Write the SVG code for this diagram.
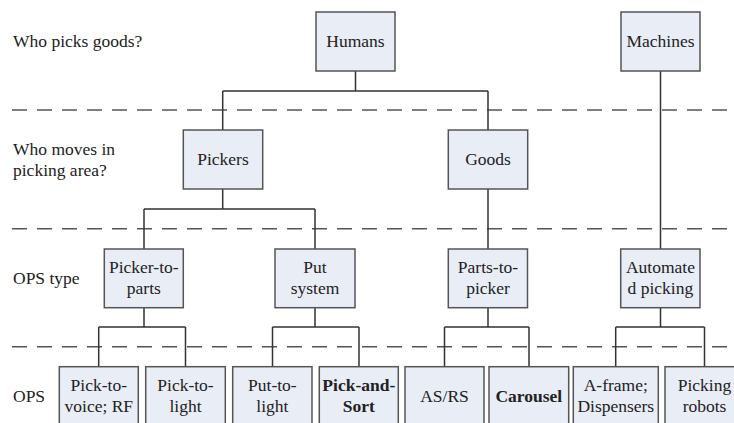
<svg xmlns="http://www.w3.org/2000/svg" width="734" height="423" viewBox="0 0 734 423">
<style>
.bg{fill:#ffffff}
.box{fill:#e9edf6;stroke:#555555;stroke-width:1.5}
.t{text-anchor:middle}
.b{font-weight:bold}
.dash{stroke:#555555;stroke-width:1.5;stroke-dasharray:15 10;fill:none}
.c{stroke:#333333;stroke-width:1.5;fill:none}
</style>
<rect class="bg" x="0" y="0" width="734" height="423"/>
<g font-family="Liberation Serif, Times New Roman, serif" font-size="17.5" fill="#222222">
<g id="levels">
<line class="dash" x1="12" y1="110" x2="734" y2="110"/>
<line class="dash" x1="12" y1="228.7" x2="734" y2="228.7"/>
<line class="dash" x1="12" y1="346.7" x2="734" y2="346.7"/>
<text x="13" y="46.5">Who picks goods?</text>
<text x="13" y="154.5">Who moves in</text>
<text x="13" y="175.5">picking area?</text>
<text x="13" y="284.3">OPS type</text>
<text x="13" y="401.8">OPS</text>
</g>
<g id="connectors">
<path class="c" d="M355.5,71 V91 M222.7,91 H488 M222.7,91 V130 M488,91 V130"/>
<path class="c" d="M660.5,71 V249"/>
<path class="c" d="M222.7,189 V209 M144,209 H315 M144,209 V249 M315,209 V249"/>
<path class="c" d="M488,189 V249"/>
<path class="c" d="M144,307.7 V327 M98.7,327 H185.5 M98.7,327 V366.7 M185.5,327 V366.7"/>
<path class="c" d="M315,307.7 V327 M272.5,327 H359 M272.5,327 V366.7 M359,327 V366.7"/>
<path class="c" d="M488,307.7 V327 M444.5,327 H529 M444.5,327 V366.7 M529,327 V366.7"/>
<path class="c" d="M660.5,307.7 V327 M615.7,327 H704.5 M615.7,327 V366.7 M704.5,327 V366.7"/>
</g>
<g id="humans"><rect class="box" x="316" y="12" width="79" height="59"/><text class="t" x="355.5" y="47">Humans</text></g>
<g id="machines"><rect class="box" x="621" y="12" width="79" height="59"/><text class="t" x="660.5" y="47">Machines</text></g>
<g id="pickers"><rect class="box" x="183.3" y="130" width="79.4" height="59"/><text class="t" x="223" y="165">Pickers</text></g>
<g id="goods"><rect class="box" x="448.3" y="130" width="79.4" height="59"/><text class="t" x="488" y="165">Goods</text></g>
<g id="picker-to-parts"><rect class="box" x="104.3" y="249" width="79" height="58.7"/><text class="t" x="143.8" y="273.3">Picker-to-</text><text class="t" x="143.8" y="294.3">parts</text></g>
<g id="put-system"><rect class="box" x="275" y="249" width="80" height="58.7"/><text class="t" x="315" y="273.3">Put</text><text class="t" x="315" y="294.3">system</text></g>
<g id="parts-to-picker"><rect class="box" x="448.3" y="249" width="79.2" height="58.7"/><text class="t" x="488" y="273.3">Parts-to-</text><text class="t" x="488" y="294.3">picker</text></g>
<g id="automated-picking"><rect class="box" x="620.7" y="249" width="79.3" height="58.7"/><text class="t" x="660.4" y="273.3">Automate</text><text class="t" x="660.4" y="294.3">d picking</text></g>
<g id="pick-to-voice"><rect class="box" x="59.3" y="366.7" width="79" height="59"/><text class="t" x="98.8" y="391">Pick-to-</text><text class="t" x="98.8" y="412">voice; RF</text></g>
<g id="pick-to-light"><rect class="box" x="145.7" y="366.7" width="79.6" height="59"/><text class="t" x="185.5" y="391">Pick-to-</text><text class="t" x="185.5" y="412">light</text></g>
<g id="put-to-light"><rect class="box" x="232.7" y="366.7" width="79.3" height="59"/><text class="t" x="272.4" y="391">Put-to-</text><text class="t" x="272.4" y="412">light</text></g>
<g id="pick-and-sort"><rect class="box" x="319.3" y="366.7" width="79" height="59"/><text class="t b" x="358.8" y="391">Pick-and-</text><text class="t b" x="358.8" y="412">Sort</text></g>
<g id="asrs"><rect class="box" x="405" y="366.7" width="79" height="59"/><text class="t" x="444.5" y="402">AS/RS</text></g>
<g id="carousel"><rect class="box" x="489" y="366.7" width="79.7" height="59"/><text class="t b" x="528.8" y="402">Carousel</text></g>
<g id="a-frame"><rect class="box" x="573.3" y="366.7" width="85" height="59"/><text class="t" x="615.8" y="391">A-frame;</text><text class="t" x="615.8" y="412">Dispensers</text></g>
<g id="picking-robots"><rect class="box" x="665" y="366.7" width="79" height="59"/><text class="t" x="704.5" y="391">Picking</text><text class="t" x="704.5" y="412">robots</text></g>
</g>
</svg>
